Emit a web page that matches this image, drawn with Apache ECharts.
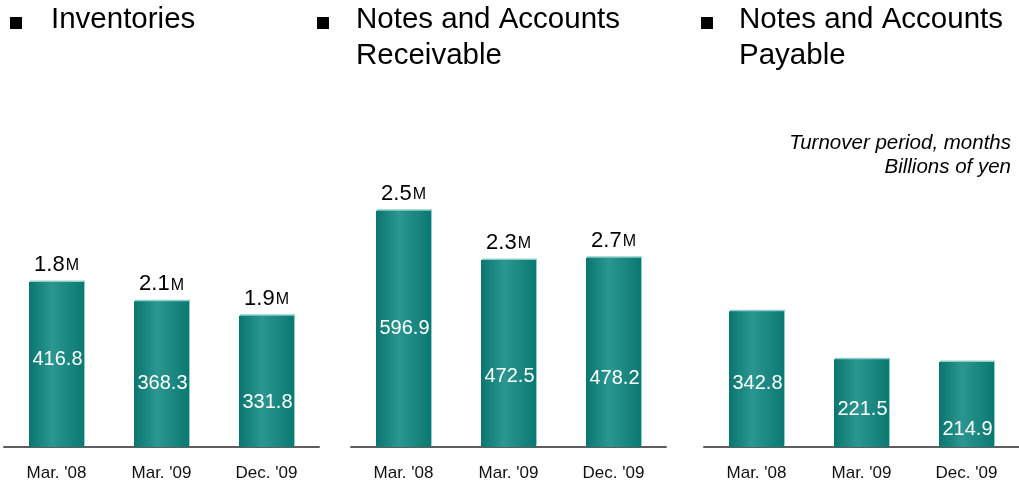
<!DOCTYPE html>
<html>
<head>
<meta charset="utf-8">
<script src="https://cdn.jsdelivr.net/npm/echarts@6/dist/echarts.min.js"></script>
<style>
html,body{margin:0;padding:0;background:#fff;}
#chart{width:1019px;height:488px;}
</style>
</head>
<body>
<div id="chart"></div>
<script>
// ---- data ----
const categories = ["Mar. '08", "Mar. '09", "Dec. '09"];
const panelTitles = ['Inventories', 'Notes and Accounts\nReceivable', 'Notes and Accounts\nPayable'];
const inventories = [416.8, 368.3, 331.8];
const receivables = [596.9, 472.5, 478.2];
const payables = [342.8, 221.5, 214.9];
const inventoryTurnover = [1.8, 2.1, 1.9];
const receivableTurnover = [2.5, 2.3, 2.7];
const unitNote = 'Turnover period, months\nBillions of yen';

// ---- layout / style ----
const FONT = "'Liberation Sans', Arial, sans-serif";
const panels = [
  { values: inventories, turnover: inventoryTurnover, left: 4, titleLeft: 51, bulletX: 10 },
  { values: receivables, turnover: receivableTurnover, left: 351, titleLeft: 356, bulletX: 317 },
  { values: payables, turnover: null, left: 704, titleLeft: 739, bulletX: 701 }
];
const valueLabelDy = [[-5, 9, 21], [0, 23, 26], [4, 6, 25]];

const barGradient = new echarts.graphic.LinearGradient(0, 0, 1, 0, [
  { offset: 0, color: '#0a766f' },
  { offset: 0.42, color: '#2c9690' },
  { offset: 1, color: '#0a7972' }
]);

const grids = [], xAxes = [], yAxes = [], series = [], titles = [], graphics = [];
panels.forEach((p, i) => {
  grids.push({ left: p.left, width: 315, top: 170, bottom: 41, containLabel: false });
  xAxes.push({
    type: 'category', gridIndex: i, data: categories,
    axisLine: { show: true, lineStyle: { color: '#5e5e5e', width: 2 } },
    axisTick: { show: false },
    axisLabel: { color: '#111', fontSize: 17, fontFamily: FONT, margin: 18, interval: 0 }
  });
  yAxes.push({
    type: 'value', gridIndex: i, min: 0, max: 700,
    show: false, splitLine: { show: false }
  });
  series.push({
    type: 'bar', xAxisIndex: i, yAxisIndex: i, barWidth: 55, barGap: '-100%',
    data: p.values.map((v, j) => ({ value: v, label: { offset: [1, valueLabelDy[i][j]] } })),
    itemStyle: {
      color: barGradient,
      shadowColor: '#8fcfc9', shadowBlur: 0, shadowOffsetX: 1, shadowOffsetY: -1.5
    },
    label: { show: true, position: 'inside', color: '#fff', fontSize: 20, fontFamily: FONT },
    emphasis: { disabled: true }
  });
  if (p.turnover) {
    const t = p.turnover;
    series.push({
      type: 'bar', xAxisIndex: i, yAxisIndex: i, barWidth: 55, barGap: '-100%',
      data: p.values, silent: true, z: 5,
      itemStyle: { color: 'rgba(0,0,0,0)' },
      label: {
        show: true, position: 'top', distance: 6,
        formatter: (q) => '{a|' + t[q.dataIndex].toFixed(1) + '}{b|M}',
        rich: {
          a: { fontSize: 22, fontFamily: FONT, color: '#000', lineHeight: 26, verticalAlign: 'bottom' },
          b: { fontSize: 16, fontFamily: FONT, color: '#000', lineHeight: 20, verticalAlign: 'bottom', padding: [0, 0, 2, 1] }
        }
      },
      emphasis: { disabled: true }
    });
  }
  titles.push({
    text: panelTitles[i], left: p.titleLeft, top: 2, padding: 0,
    textStyle: { fontSize: 29.5, fontWeight: 'normal', fontFamily: FONT, color: '#000', lineHeight: 36 }
  });
  graphics.push({ type: 'rect', left: p.bulletX, top: 17, shape: { width: 12, height: 12 }, style: { fill: '#000' } });
});

graphics.push({
  type: 'text', x: 1011, y: 131,
  style: {
    text: unitNote, align: 'right', verticalAlign: 'top',
    fontSize: 20.5, fontStyle: 'italic', fontFamily: FONT, fill: '#000', lineHeight: 24.5
  }
});

const chart = echarts.init(document.getElementById('chart'), null, { renderer: 'canvas' });
chart.setOption({
  animation: false,
  backgroundColor: '#fff',
  title: titles,
  grid: grids,
  xAxis: xAxes,
  yAxis: yAxes,
  series: series,
  graphic: graphics
});
</script>
</body>
</html>
